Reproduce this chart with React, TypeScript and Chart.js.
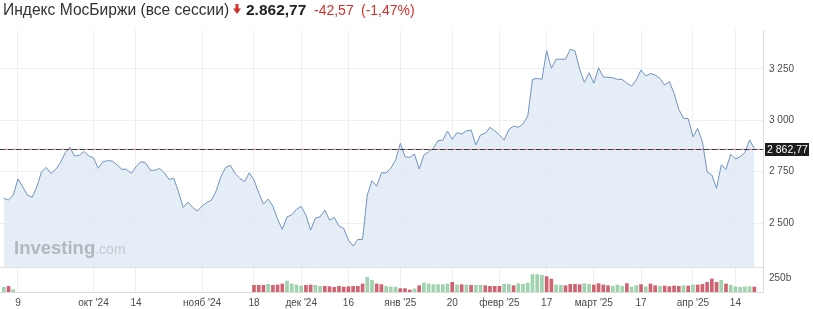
import React, { useEffect, useRef } from 'react';
import { Chart, registerables } from 'chart.js';

Chart.register(...registerables);

// ---- calendar (trading days) ----
const firstDay = '2024-09-04';
const lastDay = '2025-04-18';
const holidays = ['2024-12-31', '2025-01-01', '2025-01-02'];

function buildDates(start: string, end: string, skip: string[]): string[] {
  const out: string[] = [];
  const d = new Date(start + 'T00:00:00Z');
  const e = new Date(end + 'T00:00:00Z');
  while (d <= e) {
    const wd = d.getUTCDay();
    const s = d.toISOString().slice(0, 10);
    if (wd !== 0 && wd !== 6 && !skip.includes(s)) out.push(s);
    d.setUTCDate(d.getUTCDate() + 1);
  }
  return out;
}
const dates = buildDates(firstDay, lastDay, holidays);

// ---- series ----
const price: number[] = [
  2621, 2612, 2637, 2715, 2677, 2637, 2626, 2677, 2750, 2771,
  2742, 2762, 2794, 2843, 2869, 2826, 2831, 2849, 2826, 2818,
  2767, 2799, 2804, 2802, 2783, 2762, 2762, 2742, 2774, 2799,
  2794, 2758, 2757, 2766, 2745, 2713, 2718, 2653, 2577, 2603,
  2577, 2559, 2583, 2601, 2612, 2658, 2726, 2771, 2781, 2742,
  2718, 2702, 2745, 2710, 2648, 2593, 2617, 2583, 2519, 2470,
  2531, 2540, 2567, 2581, 2540, 2466, 2524, 2531, 2564, 2515,
  2528, 2486, 2475, 2418, 2389, 2421, 2421, 2637, 2706, 2680,
  2745, 2745, 2767, 2807, 2888, 2823, 2820, 2836, 2763, 2831,
  2847, 2864, 2901, 2904, 2948, 2908, 2940, 2933, 2949, 2953,
  2880, 2929, 2937, 2966, 2949, 2929, 2904, 2956, 2972, 2966,
  2982, 3021, 3199, 3204, 3199, 3338, 3253, 3297, 3297, 3297,
  3345, 3338, 3248, 3185, 3231, 3180, 3255, 3211, 3209, 3207,
  3199, 3199, 3180, 3167, 3196, 3245, 3215, 3228, 3220, 3204,
  3172, 3188, 3131, 3053, 3010, 3008, 2920, 2961, 2896, 2750,
  2734, 2669, 2783, 2762, 2835, 2812, 2823, 2843, 2904, 2862.77,
];

const volume: (number | null)[] = [
  83, 101, 42,
  null, null, null, null, null, null, null, null, null, null,
  null, null, null, null, null, null, null, null, null, null,
  null, null, null, null, null, null, null, null, null, null,
  null, null, null, null, null, null, null, null, null, null,
  null, null, null, null, null, null, null, null, null, null,
  119, 119, 119, 137, 119, 125, 143, 196, 143, 125,
  107, 119, 125, 119, 101, 101, 95, 83, 101, 89,
  95, 101, 101, 143, 262, 208, 143, 131, 101, 89,
  89, 60, 60, 36, 55, 113, 161, 143, 131, 131,
  131, 143, 173, 125, 131, 125, 119, 119, 119, 113,
  101, 101, 101, 137, 137, 113, 149, 137, 160, 310,
  310, 300, 275, 230, 125, 119, 113, 137, 137, 131,
  149, 137, 125, 149, 125, 113, 101, 125, 101, 149,
  89, 113, 131, 95, 143, 113, 101, 107, 95, 107,
  101, 113, 107, 125, 125, 137, 173, 232, 173, 208,
  143, 119, 95, 83, 95, 95, 89,
];

// 1 = green (up) bar, 0 = red (down) bar
const volumeUp: number[] = [
  1, 0, 1,
  0, 0, 0, 0, 0, 0, 0, 0, 0, 0,
  0, 0, 0, 0, 0, 0, 0, 0, 0, 0,
  0, 0, 0, 0, 0, 0, 0, 0, 0, 0,
  0, 0, 0, 0, 0, 0, 0, 0, 0, 0,
  0, 0, 0, 0, 0, 0, 0, 0, 0, 0,
  0, 0, 0, 1, 0, 0, 0, 1, 1, 1,
  1, 0, 0, 1, 1, 0, 0, 0, 0, 0,
  0, 0, 0, 0, 1, 1, 0, 0, 1, 1,
  1, 0, 0, 0, 1, 0, 1, 1, 1, 1,
  1, 1, 0, 1, 0, 1, 0, 1, 1, 0,
  0, 0, 0, 1, 1, 0, 1, 1, 1, 1,
  1, 1, 0, 0, 1, 1, 0, 0, 0, 0,
  1, 1, 0, 0, 0, 0, 1, 1, 1, 0,
  1, 1, 0, 1, 0, 0, 1, 0, 0, 0,
  0, 1, 0, 1, 0, 0, 0, 0, 0, 1,
  0, 1, 1, 1, 1, 1, 0,
];

const xTicks: [string, string][] = [
  ['2024-09-09', '9'],
  ['2024-10-01', "окт '24"],
  ['2024-10-14', '14'],
  ['2024-11-01', "нояб '24"],
  ['2024-11-18', '18'],
  ['2024-12-02', "дек '24"],
  ['2024-12-16', '16'],
  ['2025-01-03', "янв '25"],
  ['2025-01-20', '20'],
  ['2025-02-03', "февр '25"],
  ['2025-02-17', '17'],
  ['2025-03-03', "март '25"],
  ['2025-03-17', '17'],
  ['2025-04-01', "апр '25"],
  ['2025-04-14', '14'],
];
const yTicks = [2500, 2750, 3000, 3250];
const volTicks = [250];

const lastPrice = price[price.length - 1];
const change = -42.57;
const changePct = -1.47;

const FONT = '"Liberation Sans", Arial, Helvetica, sans-serif';

function fmt(v: number, dec = 0): string {
  const neg = v < 0;
  const s = Math.abs(v).toFixed(dec);
  const [i, f] = s.split('.');
  const ii = i.replace(/\B(?=(\d{3})+(?!\d))/g, ' ');
  return (neg ? '-' : '') + ii + (f ? ',' + f : '');
}

const overlayPlugin = {
  id: 'overlay',
  afterDatasetsDraw(chart: any) {
    const { ctx, chartArea: a, scales } = chart;
    const y = scales.y;
    const yv = scales.yVol;
    ctx.save();
    // pane separator
    ctx.strokeStyle = '#e2e2e2';
    ctx.lineWidth = 1;
    const sy = Math.round(yv.top) + 0.5;
    ctx.beginPath();
    ctx.moveTo(a.left, sy);
    ctx.lineTo(a.right, sy);
    ctx.stroke();

    // watermark
    ctx.textBaseline = 'alphabetic';
    ctx.textAlign = 'left';
    ctx.font = 'bold 18.5px ' + FONT;
    ctx.fillStyle = 'rgba(110,110,110,0.42)';
    const wx = a.left + 14;
    const wy = yv.top - 13;
    ctx.fillText('Investing', wx, wy);
    const w = ctx.measureText('Investing').width;
    ctx.font = '14px ' + FONT;
    ctx.fillStyle = 'rgba(130,130,130,0.35)';
    ctx.fillText('.com', wx + w, wy);

    // current price line
    const py = Math.round(y.getPixelForValue(lastPrice)) + 0.5;
    ctx.strokeStyle = 'rgba(205,70,70,0.7)';
    ctx.beginPath();
    ctx.moveTo(a.left, py);
    ctx.lineTo(a.right, py);
    ctx.stroke();
    ctx.setLineDash([5, 3]);
    ctx.strokeStyle = '#3a3a3a';
    ctx.beginPath();
    ctx.moveTo(a.left, py);
    ctx.lineTo(a.right, py);
    ctx.stroke();
    ctx.setLineDash([]);

    // price label box
    ctx.fillStyle = '#1c1c1c';
    ctx.fillRect(a.right + 2, py - 6.5, 44, 13);
    ctx.fillStyle = '#ffffff';
    ctx.font = '10.5px ' + FONT;
    ctx.textBaseline = 'middle';
    ctx.fillText(fmt(lastPrice, 2), a.right + 4, py + 0.5);
    ctx.restore();
  },
};

export default function App() {
  const ref = useRef<HTMLCanvasElement>(null);

  useEffect(() => {
    const canvas = ref.current;
    if (!canvas) return;
    const pricePts = price.map((v, i) => ({ x: i, y: v }));
    const volPts = volume.map((v, i) => ({ x: i, y: v }));
    const volColors = volumeUp.map((u) => (u ? 'rgba(150,205,165,0.9)' : 'rgba(198,72,88,0.85)'));
    const tickList = xTicks.map(([d, t]) => ({ value: dates.indexOf(d), label: t }));
    const n = dates.length;

    const chart = new Chart(canvas, {
      type: 'line',
      data: {
        datasets: [
          {
            type: 'line',
            data: pricePts,
            yAxisID: 'y',
            xAxisID: 'x',
            borderColor: '#6f93bf',
            borderWidth: 1,
            pointRadius: 0,
            tension: 0,
            fill: 'start',
            backgroundColor: 'rgba(222,233,245,0.8)',
          } as any,
          {
            type: 'bar',
            data: volPts,
            yAxisID: 'yVol',
            xAxisID: 'x',
            backgroundColor: volColors,
            barThickness: 3,
            grouped: false,
          } as any,
        ],
      },
      options: {
        animation: false,
        responsive: false,
        devicePixelRatio: 1,
        events: [],
        layout: { padding: { top: 30, left: 0, right: 0, bottom: 0 } },
        plugins: { legend: { display: false }, tooltip: { enabled: false }, title: { display: false } },
        scales: {
          x: {
            type: 'linear',
            offset: false,
            min: -0.81,
            max: n + 0.84,
            afterBuildTicks: (s: any) => {
              s.ticks = tickList.map((t) => ({ value: t.value }));
            },
            afterFit: (s: any) => {
              s.height = 17;
            },
            ticks: {
              autoSkip: false,
              maxRotation: 0,
              padding: 5,
              color: '#4a4a4a',
              font: { family: FONT, size: 10 },
              callback: (v: any) => {
                const t = tickList.find((q) => q.value === v);
                return t ? t.label : '';
              },
            },
            grid: { color: '#efefef', drawTicks: false, offset: false },
            border: { display: true, color: '#dcdcdc' },
          },
          y: {
            type: 'linear',
            position: 'right',
            stack: 'pane',
            stackWeight: 237,
            min: 2287,
            max: 3439,
            afterBuildTicks: (s: any) => {
              s.ticks = yTicks.map((v) => ({ value: v }));
            },
            afterFit: (s: any) => {
              s.width = 50;
            },
            ticks: {
              padding: 6,
              color: '#4a4a4a',
              font: { family: FONT, size: 10 },
              callback: (v: any) => fmt(Number(v)),
            },
            grid: { color: '#efefef', drawTicks: false },
            border: { display: true, color: '#dcdcdc' },
          },
          yVol: {
            type: 'linear',
            position: 'right',
            stack: 'pane',
            stackWeight: 25,
            min: 0,
            max: 446,
            afterBuildTicks: (s: any) => {
              s.ticks = volTicks.map((v) => ({ value: v }));
            },
            afterFit: (s: any) => {
              s.width = 50;
            },
            ticks: {
              padding: 6,
              color: '#4a4a4a',
              font: { family: FONT, size: 10 },
              callback: (v: any) => v + 'b',
            },
            grid: { display: false, drawTicks: false },
            border: { display: true, color: '#dcdcdc' },
          },
        },
      } as any,
      plugins: [overlayPlugin],
    });
    return () => chart.destroy();
  }, []);

  const red = '#d0312d';
  return (
    <div
      style={{
        position: 'fixed',
        left: 0,
        top: 0,
        width: 813,
        height: 309,
        background: '#fff',
        overflow: 'hidden',
        fontFamily: FONT,
      }}
    >
      <canvas ref={ref} width={813} height={309} style={{ position: 'absolute', left: 0, top: 0, width: 813, height: 309 }} />
      <div style={{ position: 'absolute', left: 3, top: 2, fontSize: 15.6, lineHeight: '15px', color: '#333', whiteSpace: 'nowrap' }}>
        Индекс МосБиржи (все сессии)
      </div>
      <svg width="8" height="10" viewBox="0 0 8 10" style={{ position: 'absolute', left: 233, top: 4 }}>
        <rect x="2.5" y="0" width="3" height="5" fill={red} />
        <polygon points="0,4.5 8,4.5 4,10" fill={red} />
      </svg>
      <div style={{ position: 'absolute', left: 246, top: 2, fontSize: 15.5, lineHeight: '15px', fontWeight: 'bold', color: '#1f1f1f', whiteSpace: 'nowrap' }}>
        {fmt(lastPrice, 2).replace(' ', '.')}
      </div>
      <div style={{ position: 'absolute', left: 314, top: 3, fontSize: 14, lineHeight: '14px', color: red, whiteSpace: 'nowrap' }}>
        {fmt(change, 2)}
      </div>
      <div style={{ position: 'absolute', left: 361, top: 3, fontSize: 14, lineHeight: '14px', color: red, whiteSpace: 'nowrap' }}>
        ({fmt(changePct, 2)}%)
      </div>
    </div>
  );
}
